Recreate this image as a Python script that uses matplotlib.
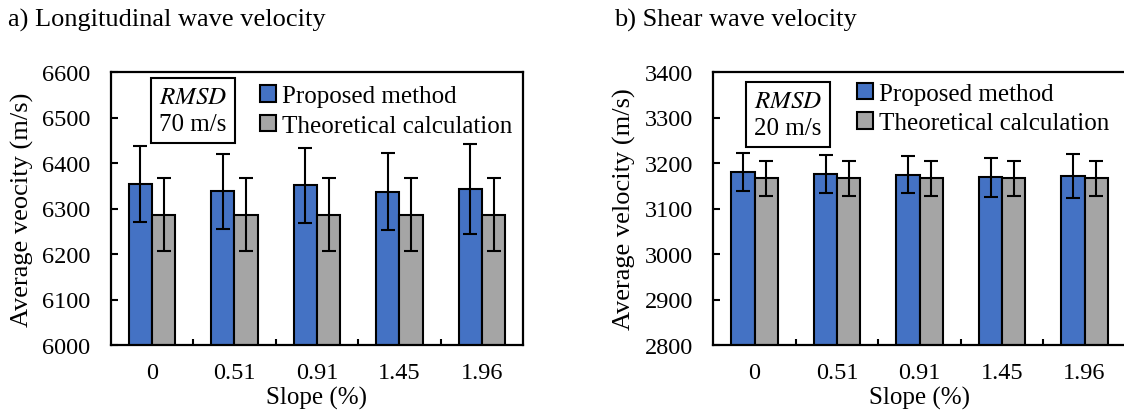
import numpy as np
import matplotlib.pyplot as plt

plt.rcParams['font.family'] = ['Liberation Serif', 'DejaVu Serif']
plt.rcParams['mathtext.fontset'] = 'stix'

# data
slopes = ['0', '0.51', '0.91', '1.45', '1.96']

long_prop = [6354, 6338, 6351, 6337, 6342]
long_prop_err = [84, 82, 82, 85, 99]
long_theo = [6286, 6286, 6286, 6286, 6286]
long_theo_err = [80, 80, 80, 80, 80]

shear_prop = [3180, 3176, 3174, 3169, 3171]
shear_prop_err = [42, 42, 41, 43, 48]
shear_theo = [3166, 3166, 3166, 3166, 3166]
shear_theo_err = [39, 39, 39, 39, 39]

blue = '#4472C4'
grey = '#A5A5A5'
fs = 18

fig = plt.figure(figsize=(11.24, 4.14), dpi=100)
W, H = 1124., 414.


def panel(left_px, prop, perr, theo, terr, ylim, ylabel, rmsd, box_xy, leg_xy):
    ax = fig.add_axes([left_px / W, (H - 346) / H, 412.5 / W, 273 / H])
    x = np.arange(len(slopes))
    bw = 0.28
    ekw = dict(ecolor='black', elinewidth=1.5, capsize=5, capthick=1.5)
    ax.bar(x - bw / 2, prop, bw, yerr=perr, color=blue, edgecolor='black',
           linewidth=1.5, label='Proposed method', error_kw=ekw, zorder=2)
    ax.bar(x + bw / 2, theo, bw, yerr=terr, color=grey, edgecolor='black',
           linewidth=1.5, label='Theoretical calculation', error_kw=ekw, zorder=2)
    ax.set_xlim(-0.5, len(slopes) - 0.5)
    ax.set_ylim(*ylim)
    ax.set_yticks(np.arange(ylim[0], ylim[1] + 1, 100))
    ax.set_xticks(x)
    ax.set_xticklabels(slopes)
    ax.set_xticks(np.arange(0.5, len(slopes) - 0.5, 1), minor=True)
    ax.tick_params(axis='x', which='major', length=0, pad=12, labelsize=17.5)
    ax.tick_params(axis='x', which='minor', direction='in', length=4.5, width=1.5)
    ax.tick_params(axis='y', direction='in', length=5, width=1.5, pad=14.5, labelsize=17.5)
    for s in ax.spines.values():
        s.set_linewidth(1.6)
    ax.set_xlabel('Slope (%)', fontsize=fs, labelpad=2)
    ax.set_ylabel(ylabel, fontsize=19, labelpad=6)
    ax.text(box_xy[0], box_xy[1], '$\\it{RMSD}$\n' + rmsd, transform=ax.transAxes,
            fontsize=fs, ha='center', va='top', linespacing=1.3,
            bbox=dict(boxstyle='square,pad=0.32', fc='white', ec='black', lw=1.5))
    ax.legend(loc='upper left', bbox_to_anchor=leg_xy, frameon=False,
              fontsize=fs, handlelength=0.64, handleheight=0.64,
              handletextpad=0.25, labelspacing=0.3, borderaxespad=0, borderpad=0)
    return ax


panel(110.7, long_prop, long_prop_err, long_theo, long_theo_err, (6000, 6600),
      'Average veocity (m/s)', '70 m/s', (0.1995, 0.949), (0.362, 0.952))
panel(713.3, shear_prop, shear_prop_err, shear_theo, shear_theo_err, (2800, 3400),
      'Average velocity (m/s)', '20 m/s', (0.181, 0.934), (0.348, 0.961))

fig.text(8 / W, 1 - 20 / H, 'a) Longitudinal wave velocity', fontsize=19, va='center', ha='left')
fig.text(614 / W, 1 - 20 / H, 'b) Shear wave velocity', fontsize=19, va='center', ha='left')

fig.savefig('out.png', dpi=100)
